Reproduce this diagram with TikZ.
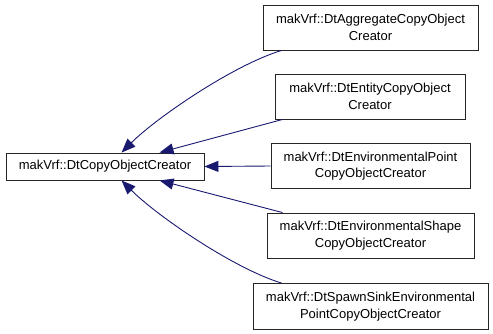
\documentclass[tikz,border=0pt]{standalone}
\usepackage{fontspec}
\setmainfont{Liberation Sans}
\usetikzlibrary{arrows.meta}
\definecolor{edgeblue}{HTML}{191970}
\begin{document}
\begin{tikzpicture}[x=1pt,y=-1pt,
  cls/.style={draw=black!85,line width=0.9pt,fill=white,inner sep=0pt,
    font=\fontsize{13}{16.5}\selectfont,align=center,anchor=center},
  edge/.style={draw=edgeblue,line width=0.9pt,-{Triangle[length=14pt,width=11pt]}}]
\useasboundingbox (0,0) rectangle (493,333);
\node[cls,minimum width=198pt,minimum height=27pt] (base) at (105,166.5) {makVrf::DtCopyObjectCreator};
\node[cls,minimum width=215pt,minimum height=45pt] (n1) at (370.5,27.5) {makVrf::DtAggregateCopyObject\\Creator};
\node[cls,minimum width=190pt,minimum height=45pt] (n2) at (370,96.5) {makVrf::DtEntityCopyObject\\Creator};
\node[cls,minimum width=199pt,minimum height=45pt] (n3) at (370.5,166) {makVrf::DtEnvironmentalPoint\\CopyObjectCreator};
\node[cls,minimum width=207pt,minimum height=45pt] (n4) at (370.5,235.5) {makVrf::DtEnvironmentalShape\\CopyObjectCreator};
\node[cls,minimum width=235pt,minimum height=46pt] (n5) at (370.5,306.5) {makVrf::DtSpawnSinkEnvironmental\\PointCopyObjectCreator};
\draw[edge] ([xshift=19pt]n1.south west) .. controls +(-48,14.5) and +(35,-35) .. ([xshift=116pt]base.north west);
\draw[edge] ([xshift=8pt]n2.south west) -- ([xshift=154pt]base.north west);
\draw[edge] (n3.west) -- (base.east);
\draw[edge] ([xshift=16pt]n4.north west) -- ([xshift=154pt]base.south west);
\draw[edge] ([xshift=29pt]n5.north west) .. controls +(-48,-14.5) and +(35,35) .. ([xshift=116pt]base.south west);
\end{tikzpicture}
\end{document}
